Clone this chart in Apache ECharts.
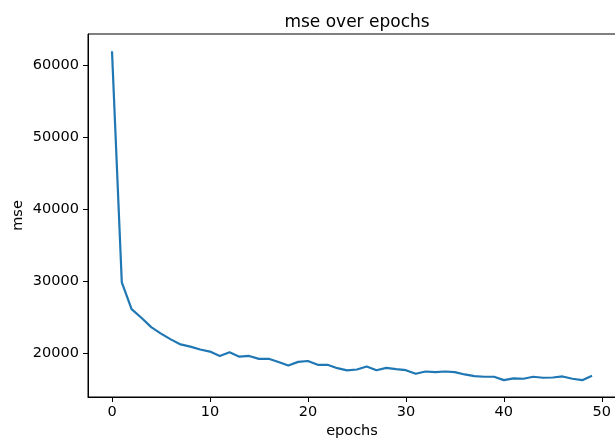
<!DOCTYPE html>
<html>
<head>
<meta charset="utf-8">
<title>mse over epochs</title>
<script src="https://cdn.jsdelivr.net/npm/echarts@6/dist/echarts.min.js"></script>
<style>
    html, body { margin: 0; padding: 0; background: #fff; }
    #chart { width: 615px; height: 439px; }
</style>
</head>
<body>
<div id="chart"></div>
<script>
// data
var epochs = [];
for (var e = 0; e < 50; e++) { epochs.push(e); }
var mse = [
    61900, 29800, 26100, 24900, 23600, 22700, 21900, 21200, 20900, 20500,
    20200, 19600, 20100, 19500, 19600, 19200, 19200, 18750, 18270, 18780,
    18900, 18370, 18370, 17900, 17600, 17720, 18130, 17620, 17950, 17760,
    17620, 17120, 17440, 17350, 17440, 17350, 17030, 16800, 16710, 16710,
    16240, 16480, 16430, 16710, 16570, 16610, 16750, 16430, 16240, 16850
];
var xTicks = [0, 10, 20, 30, 40, 50];
var yTicks = [20000, 30000, 40000, 50000, 60000];

var font = 'DejaVu Sans';

var points = [];
for (var i = 0; i < epochs.length; i++) {
    points.push([epochs[i], mse[i]]);
}

// plain numbers, no thousands separator
var plain = function (v) { return String(v); };

var chart = echarts.init(document.getElementById('chart'), null, { renderer: 'canvas' });

var option = {
    animation: false,
    backgroundColor: '#fff',
    title: {
        text: 'mse over epochs',
        left: 352,
        top: 9,
        textAlign: 'center',
        textStyle: { fontFamily: font, fontSize: 17, fontWeight: 'normal', color: '#000' }
    },
    grid: {
        left: 88, top: 34, width: 528, height: 363,
        outerBoundsMode: 'none',
        containLabel: false,
        show: true, borderColor: '#000', borderWidth: 1, backgroundColor: '#fff'
    },
    xAxis: {
        type: 'value',
        min: -2.45,
        max: 51.45,
        name: 'epochs',
        nameLocation: 'middle',
        nameGap: 27,
        nameMoveOverlap: false,
        nameTextStyle: { fontFamily: font, fontSize: 14.5, color: '#000' },
        splitLine: { show: false },
        axisLine: { show: true, onZero: false, lineStyle: { color: '#000', width: 1 } },
        axisTick: { show: true, length: 5, customValues: xTicks, lineStyle: { color: '#000' } },
        axisLabel: { customValues: xTicks, formatter: plain, margin: 8, fontFamily: font, fontSize: 14.5, color: '#000' }
    },
    yAxis: {
        type: 'value',
        min: 13900,
        max: 64290,
        name: 'mse',
        nameLocation: 'middle',
        nameGap: 62,
        nameMoveOverlap: false,
        nameTextStyle: { fontFamily: font, fontSize: 14.5, color: '#000' },
        splitLine: { show: false },
        axisLine: { show: true, onZero: false, lineStyle: { color: '#000', width: 1 } },
        axisTick: { show: true, length: 5, customValues: yTicks, lineStyle: { color: '#000' } },
        axisLabel: { customValues: yTicks, formatter: plain, margin: 9, fontFamily: font, fontSize: 14.5, color: '#000' }
    },
    series: [
        {
            type: 'line',
            data: points,
            showSymbol: false,
            lineStyle: { color: '#1f77b4', width: 2.2 },
            itemStyle: { color: '#1f77b4' }
        }
    ]
};
chart.setOption(option);
</script>
</body>
</html>
